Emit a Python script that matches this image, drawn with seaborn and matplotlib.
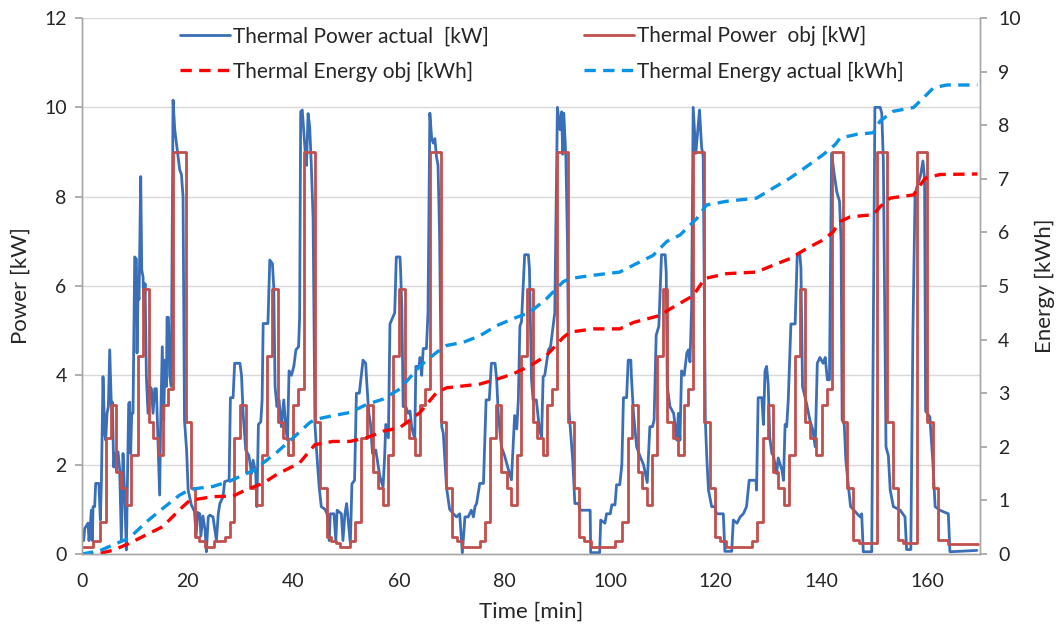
import matplotlib
matplotlib.use("Agg")
import matplotlib.pyplot as plt
import seaborn as sns
import pandas as pd

# ---------------- data ----------------
# Thermal Power obj [kW] : step breakpoints (time [min], level [kW])
obj_t = [0.0, 2.1, 3.35, 4.5, 5.4, 6.4, 7.45, 8.4, 9.35, 10.6, 11.55, 12.6, 13.4, 14.4, 15.35, 16.3,
         17.25, 19.6, 20.6, 21.4, 22.2, 23.2, 24.9, 27.0, 28.0, 28.8, 29.9, 31.0, 31.9, 32.9, 34.0,
         35.0, 36.0, 37.1, 38.0, 39.0, 40.0, 40.9, 42.0, 44.1, 45.0, 46.3, 47.2, 48.0, 48.8, 50.7,
         51.65, 52.9, 54.0, 55.1, 56.1, 57.0, 57.9, 58.9, 60.0, 61.1, 61.9, 63.0, 64.0, 64.9, 65.85,
         67.95, 69.0, 70.0, 70.9, 71.9, 75.3, 76.3, 77.2, 78.4, 79.4, 80.4, 81.3, 82.3, 83.2, 84.2,
         85.3, 86.2, 87.2, 88.1, 89.0, 89.9, 92.05, 93.1, 94.1, 95.1, 96.3, 100.9, 102.2, 103.4,
         104.2, 105.3, 106.0, 107.0, 108.0, 108.9, 109.9, 110.8, 111.8, 112.9, 113.9, 114.8, 115.7,
         117.8, 118.8, 119.8, 120.8, 121.9, 126.8, 127.7, 128.9, 129.9, 130.9, 131.8, 132.8, 133.9,
         135.0, 135.9, 136.9, 137.8, 139.0, 140.0, 141.0, 141.9, 144.0, 144.9, 145.9, 147.0, 150.5,
         152.4, 153.5, 154.4, 155.4, 158.0, 160.0, 161.1, 162.1, 164.0, 169.6]
obj_p = [0.16, 0.28, 0.72, 2.59, 3.34, 1.84, 1.47, 1.10, 2.22, 4.43, 5.93, 2.96, 2.59, 2.22, 3.34, 3.69,
         9.0, 2.96, 1.47, 0.39, 0.28, 0.16, 0.28, 0.39, 0.72, 2.59, 3.34, 1.84, 1.47, 1.10, 2.22,
         4.43, 5.93, 2.96, 2.59, 2.22, 3.34, 3.69, 9.0, 2.96, 1.47, 0.39, 0.28, 0.24, 0.16, 0.28,
         0.72, 2.59, 3.34, 1.84, 1.47, 1.10, 2.22, 4.43, 5.93, 2.96, 2.59, 2.22, 3.34, 3.69, 9.0,
         2.96, 1.47, 0.39, 0.28, 0.16, 0.28, 0.72, 2.59, 3.34, 1.84, 1.47, 1.10, 2.22, 4.43, 5.93,
         2.96, 2.59, 2.22, 3.34, 3.69, 9.0, 2.96, 1.47, 0.39, 0.28, 0.16, 0.28, 0.72, 2.59,
         3.34, 1.84, 1.47, 1.10, 2.22, 4.43, 5.93, 2.96, 2.59, 2.22, 3.34, 3.69, 9.0,
         2.96, 1.47, 0.39, 0.28, 0.16, 0.28, 0.72, 2.59, 3.34, 1.84, 1.47, 1.10, 2.22,
         4.43, 5.93, 2.96, 2.59, 2.22, 3.34, 3.69, 9.0, 2.96, 1.47, 0.31, 0.24, 9.0,
         2.96, 1.47, 0.31, 0.24, 9.0, 2.96, 1.47, 0.31, 0.22, 0.22]

# Thermal Power actual [kW]
act_t = [0.0, 0.32, 0.51, 1.14, 1.33, 1.58, 1.77, 1.96, 2.09, 2.4, 2.59, 3.2, 3.48, 3.67, 3.98, 4.3,
         4.49, 4.74, 4.99, 5.25, 5.56, 5.75, 6.0, 6.25, 6.5, 6.82, 7.14, 7.45, 7.77, 8.09, 8.4, 8.72,
         8.84, 9.03, 9.22, 9.41, 9.66, 9.98, 10.3, 10.42, 10.61, 10.8, 11.12, 11.31, 11.56, 11.75,
         11.94, 12.19, 12.5, 12.82, 13.14, 13.45, 13.77, 14.08, 14.4, 14.7, 14.9, 15.2, 15.47, 15.7,
         15.98, 16.1, 16.36, 16.6, 16.9, 17.24, 17.56, 17.87, 18.19, 18.5, 18.82, 19.13, 19.4, 19.64,
         19.8, 20.1, 20.7, 21.3, 21.6, 21.9, 22.3, 22.5, 22.9, 23.3, 23.55, 23.9, 24.2, 24.8, 25.45,
         25.8, 26.1, 26.7, 27.0, 27.85,
         28.1, 28.6, 28.9, 29.9, 30.2, 30.5, 31.0, 31.6, 32.1, 32.4, 32.9, 33.1, 33.4, 33.85, 34.1,
         34.3, 35.2, 35.55, 36.05, 36.3, 36.55, 36.9, 37.3, 37.75, 38.2, 38.6, 38.9, 39.2, 39.65,
         40.1, 40.5, 41.0, 41.2, 41.4, 41.7, 42.2, 42.5, 42.8, 43.1, 43.4, 43.75, 44.1, 44.4, 44.9,
         45.3, 46.0, 46.4, 46.8, 47.0, 47.7, 48.05, 48.3, 49.1, 49.4, 49.75, 50.1, 50.8, 51.1, 51.6,
         51.95, 52.5, 53.2, 53.7, 54.0, 54.3, 54.6, 55.0, 55.6, 56.4,
         57.0, 57.3, 57.5, 58.0, 58.3, 59.2, 59.5, 60.2, 60.3, 60.55, 60.8, 61.3, 61.75, 62.1, 62.4,
         62.7, 63.0, 63.2, 63.8, 64.0, 64.3, 64.6, 65.2, 65.5, 65.85, 66.2, 66.5, 66.8, 67.1, 67.4,
         67.7, 68.1, 68.4, 69.0, 69.6, 70.3, 70.9, 71.5, 72.0, 72.5, 73.1, 73.7, 74.1, 74.4, 74.7,
         75.3, 76.0, 76.5, 77.1, 77.5, 78.2, 78.5, 78.8, 79.4, 80.0, 80.7, 81.3, 81.9, 82.3, 82.6,
         82.9, 83.2, 83.8, 84.5, 84.7, 85.1, 85.4, 86.0, 86.6, 87.0, 87.3, 87.6, 88.3, 88.7, 89.5,
         90.0, 90.5, 90.8, 91.0, 91.2, 91.6, 91.9, 92.2, 92.9, 93.3, 94.0, 94.3, 96.2, 96.3, 98.0,
         98.2, 99.0, 99.3, 100.0, 100.3, 100.9, 101.2, 101.8, 102.2, 102.5, 103.1, 103.4, 103.9,
         104.0, 104.4, 105.0, 105.6, 106.3, 107.0, 107.5, 108.0, 108.3, 108.7, 109.2, 109.7, 110.4,
         110.6, 110.8, 111.3, 112.0, 112.6, 112.9, 113.2, 113.5, 114.0, 114.5, 114.8, 115.1, 115.4,
         115.7, 116.2, 116.9, 117.3, 117.6, 118.0, 118.3, 118.6, 119.2, 119.8, 120.1, 121.4, 121.7,
         123.0, 123.3, 124.0, 124.6, 125.2, 125.8, 126.3, 127.6, 127.7, 128.0, 128.7, 129.0, 129.3,
         129.6, 129.9, 130.2, 130.6, 130.9, 131.5, 131.8, 132.5, 132.8, 133.1, 133.4, 133.7, 134.2,
         135.0, 135.4, 135.9, 136.1, 136.4, 136.9, 137.2, 137.8, 138.3, 138.8, 139.2, 139.7, 140.3,
         140.7, 141.1, 141.5, 141.9, 142.4, 142.9, 143.4, 143.7, 143.9, 144.3, 144.6, 145.1, 145.5,
         147.3, 147.6, 147.9, 149.5, 150.1, 151.1, 151.4, 151.7, 152.2, 152.65, 153.0, 153.6, 154.9,
         155.8, 156.1, 156.9, 157.3, 157.7, 158.0, 158.7, 159.2, 159.5, 159.7, 160.5, 161.05, 161.5,
         162.4, 164.0, 164.3, 169.4]
act_p = [0.5, 0.3, 0.57, 0.69, 0.3, 0.65, 0.98, 0.3, 1.06, 1.06, 1.58, 1.58, 0.76, 1.58, 3.97, 2.7,
         2.55, 3.15, 3.3, 4.57, 3.3, 3.4, 1.95, 2.25, 1.88, 2.29, 1.88, 0.3, 2.25, 1.3, 0.09, 2.5,
         3.37, 3.4, 2.25, 3.15, 3.15, 6.65, 6.6, 4.5, 5.84, 5.7, 8.45, 6.36, 6.2, 5.4,
         6.05, 3.97, 3.15, 3.75, 3.7, 3.15, 3.7, 3.7, 2.5, 1.32, 3.0, 4.64, 3.0, 4.34,
         3.75, 5.3, 5.3, 4.0, 3.75, 10.16, 9.5, 9.2, 8.9, 8.6, 8.5, 8.0, 3.0, 2.6,
         2.33, 1.43, 1.1, 0.95, 0.4, 0.93, 0.9, 0.4, 0.85, 0.54, 0.05, 0.83, 0.87, 0.83, 0.3,
         0.9, 1.13, 1.28, 1.62, 1.65,
         3.5, 3.5, 4.27, 4.27, 4.0, 3.15, 2.33, 2.2, 1.8, 2.1, 1.8, 1.06, 2.9, 2.96, 3.45,
         5.16, 5.16, 6.58, 6.5, 5.98, 3.75, 3.3, 3.45, 2.85, 3.45, 2.8, 2.55, 4.1, 4.0,
         4.2, 4.57, 4.64, 5.3, 9.9, 9.94, 9.1, 8.7, 9.86, 9.57, 8.75, 7.5, 2.9, 2.33, 1.5,
         1.06, 1.0, 0.9, 0.3, 0.9, 0.9, 0.3, 0.98, 0.9, 0.3, 0.87, 1.13, 0.24, 1.57, 1.65,
         3.6, 3.6, 4.34, 4.27, 3.67, 3.15, 2.93, 2.25, 2.33, 1.73,
         1.5, 2.2, 2.9, 2.6, 5.15, 5.4, 6.65, 6.65, 6.4, 5.5, 3.3, 3.3, 3.15, 3.2, 2.85,
         2.7, 2.6, 4.2, 4.2, 4.4, 4.0, 4.6, 4.6, 5.4, 9.87, 9.3, 9.2, 9.3, 8.9, 8.7,
         7.1, 2.85, 2.7, 1.5, 1.0, 0.9, 0.83, 0.9, 0.02, 0.83, 0.83, 0.98, 0.83, 1.06, 1.13,
         1.58, 1.58, 3.45, 3.45, 4.27, 4.27, 3.9, 3.15, 2.4, 2.2, 1.9, 1.66, 3.1, 2.8, 3.45,
         5.1, 5.2, 6.7, 6.7, 6.4, 3.9, 3.45, 3.45, 2.8, 2.6, 3.97, 4.0, 4.57, 4.64, 5.4,
         10.0, 9.5, 9.9, 8.95, 9.87, 8.9, 7.0, 3.2, 2.1, 1.13, 1.13, 0.98, 0.98, 0.03, 0.03,
         0.76, 0.69, 0.9, 0.9, 1.1, 1.1, 1.55, 1.55, 2.0, 3.5, 3.5, 4.34, 4.34,
         4.0, 3.15, 2.4, 2.2, 2.0, 1.6, 2.85, 2.85, 3.0, 4.9, 5.1, 6.7, 6.7,
         6.3, 3.75, 3.3, 3.15, 2.55, 3.15, 2.55, 4.1, 4.0, 4.5, 4.57, 4.3, 5.5,
         10.0, 8.97, 9.94, 9.1, 8.9, 3.0, 2.1, 1.43, 1.06, 1.06, 0.9, 0.9, 0.06,
         0.06, 0.76, 0.69, 0.83, 0.9, 1.06, 1.65, 1.65, 1.43, 3.5, 3.5, 2.9, 4.1,
         4.2, 3.8, 2.6, 2.25, 2.2, 1.8, 2.15, 1.88, 1.65, 2.9, 2.85, 3.45, 5.15,
         5.15, 6.7, 6.7, 6.4, 3.75, 3.5, 3.35, 2.99, 2.8, 2.4, 4.27, 4.4, 4.27,
         4.4, 3.9, 3.9, 8.97, 8.5, 8.1, 7.9, 7.0, 3.0, 2.9, 2.1, 1.5, 1.06,
         0.83, 0.9, 0.05, 0.05, 10.0, 10.0, 9.87, 8.8, 2.4, 2.2, 1.43, 1.06, 0.98,
         0.83, 0.1, 0.1, 5.0, 8.0, 8.2, 8.45, 8.8, 8.4, 3.2, 3.07, 2.1, 1.06,
         0.98, 0.9, 0.05, 0.08]

# Thermal Energy actual [kWh]
ea_t = [0, 3.35, 5.9, 9.0, 12.2, 15.3, 18.5, 20.4, 22.3, 24.8, 28.0, 31.1, 33.0, 34.3, 36.8, 40.0,
        43.1, 44.1, 47.5, 50.7, 53.9, 57.0, 60.2, 64.0, 67.1, 69.0, 72.2, 75.3, 78.5, 81.6, 84.8,
        87.9, 91.1, 92.4, 96.8, 101.8, 104.4, 108.1, 110.7, 113.2, 116.4, 118.2, 122.0, 127.7,
        130.9, 134.0, 137.2, 140.3, 142.6, 143.5, 146.7, 149.8, 151.1, 153.6, 157.4, 159.3, 161.2,
        163.7, 169.5]
ea_v = [0.0, 0.06, 0.17, 0.3, 0.6, 0.85, 1.1, 1.2, 1.23, 1.26, 1.36, 1.5, 1.58, 1.7, 1.89, 2.17,
        2.45, 2.51, 2.58, 2.64, 2.79, 2.89, 3.08, 3.51, 3.76, 3.89, 3.95, 4.07, 4.26, 4.39, 4.51,
        4.76, 5.08, 5.14, 5.2, 5.26, 5.39, 5.57, 5.83, 5.95, 6.26, 6.51, 6.58, 6.64,
        6.83, 7.01, 7.23, 7.45, 7.64, 7.76, 7.83, 7.86, 8.08, 8.26, 8.33, 8.51, 8.7,
        8.75, 8.75]

# Thermal Energy obj [kWh]
eo_t = [0, 3.35, 5.9, 9.0, 12.2, 15.3, 18.5, 20.4, 24.8, 28.6, 31.1, 34.3, 36.8, 41.2, 44.1, 47.5,
        50.7, 53.9, 57.0, 60.2, 64.0, 67.1, 69.0, 75.3, 78.5, 81.6, 84.8, 87.9, 91.1, 92.4, 96.8,
        101.8, 104.4, 109.4, 111.3, 115.7, 117.9, 122.0, 127.7, 130.9, 134.0, 137.2, 140.3, 142.2,
        143.5, 145.4, 149.8, 151.1, 153.0, 157.4, 159.6, 162.4, 169.5]
eo_v = [0.0, 0.01, 0.07, 0.2, 0.36, 0.51, 0.83, 1.0, 1.07, 1.08, 1.2, 1.32, 1.48, 1.7, 2.04, 2.1,
        2.1, 2.17, 2.29, 2.36, 2.64, 3.01, 3.1, 3.17, 3.26, 3.36, 3.51, 3.7, 4.04, 4.14, 4.2,
        4.2, 4.32, 4.45, 4.57, 4.82, 5.14, 5.23, 5.26, 5.39, 5.51, 5.7, 5.86, 6.01,
        6.2, 6.29, 6.33, 6.48, 6.64, 6.7, 7.01, 7.08, 7.09]

x_ticks = [0, 20, 40, 60, 80, 100, 120, 140, 160]
yl_ticks = [0, 2, 4, 6, 8, 10, 12]
yr_ticks = [0, 1, 2, 3, 4, 5, 6, 7, 8, 9, 10]

lab_pa = "Thermal Power actual  [kW]"
lab_po = "Thermal Power  obj [kW]"
lab_eo = "Thermal Energy obj [kWh]"
lab_ea = "Thermal Energy actual [kWh]"

# ---------------- style ----------------
sns.set_theme(style="white")
plt.rcParams["font.family"] = ["Lato", "DejaVu Sans"]
TXT = "#262626"
SPINE = "#a6a6a6"
C_PA = "#3a6fb7"
C_PO = "#c0504d"
C_EO = "#ff0000"
C_EA = "#0a93e6"

fig = plt.figure(figsize=(10.62, 6.34), dpi=100)
ax = fig.add_axes([0.0772, 0.1262, 0.8456, 0.8454])
ax2 = ax.twinx()

df_pa = pd.DataFrame({"t": act_t, "p": act_p})
df_po = pd.DataFrame({"t": obj_t, "p": obj_p})
df_ea = pd.DataFrame({"t": ea_t, "e": ea_v})
df_eo = pd.DataFrame({"t": eo_t, "e": eo_v})

sns.lineplot(data=df_pa, x="t", y="p", ax=ax, color=C_PA, linewidth=2.0,
             estimator=None, sort=False, label=lab_pa, legend=False)
sns.lineplot(data=df_po, x="t", y="p", ax=ax, color=C_PO, linewidth=2.0,
             estimator=None, sort=False, drawstyle="steps-post", label=lab_po, legend=False)
sns.lineplot(data=df_eo, x="t", y="e", ax=ax2, color=C_EO, linewidth=2.4,
             estimator=None, sort=False, label=lab_eo, legend=False)
sns.lineplot(data=df_ea, x="t", y="e", ax=ax2, color=C_EA, linewidth=2.4,
             estimator=None, sort=False, label=lab_ea, legend=False)
for ln in ax2.lines:
    ln.set_dashes((3.4, 2.2))

# axes settings
ax.set_xlim(0, 170)
ax.set_ylim(0, 12)
ax2.set_ylim(0, 10)
ax.set_xticks(x_ticks)
ax.set_yticks(yl_ticks)
ax2.set_yticks(yr_ticks)

ax.grid(False)
ax2.grid(False)
for y in yl_ticks[1:]:
    ax.axhline(y, color="#d9d9d9", linewidth=1.0, zorder=0)

for a in (ax, ax2):
    a.spines["top"].set_visible(False)
    for sp in ["left", "right", "bottom"]:
        a.spines[sp].set_color(SPINE)
        a.spines[sp].set_linewidth(1.0)

ax.tick_params(axis="y", which="both", left=True, length=5, color=SPINE, labelsize=14,
               labelcolor=TXT, pad=6)
ax.tick_params(axis="x", bottom=False, labelsize=14, labelcolor=TXT, pad=8)
ax2.tick_params(axis="y", right=True, length=5, color=SPINE, labelsize=14, labelcolor=TXT, pad=8)

ax.set_xlabel("Time [min]", fontsize=16, color=TXT, labelpad=8)
ax.set_ylabel("Power [kW]", fontsize=16, color=TXT, labelpad=10)
ax2.set_ylabel("Energy [kWh]", fontsize=16, color=TXT, labelpad=10)

# legend
h1, l1 = ax.get_legend_handles_labels()
h2, l2 = ax2.get_legend_handles_labels()
hd = {l: h for h, l in zip(h1 + h2, l1 + l2)}
order = [lab_pa, lab_eo, lab_po, lab_ea]
leg = fig.legend([hd[k] for k in order], order, loc="upper left",
                 bbox_to_anchor=(0.152, 0.988), ncol=2, frameon=False, fontsize=15,
                 handlelength=2.4, handletextpad=0.12, columnspacing=4.6, labelspacing=0.72)
for t in leg.get_texts():
    t.set_color(TXT)

fig.savefig("out.png", dpi=100)
